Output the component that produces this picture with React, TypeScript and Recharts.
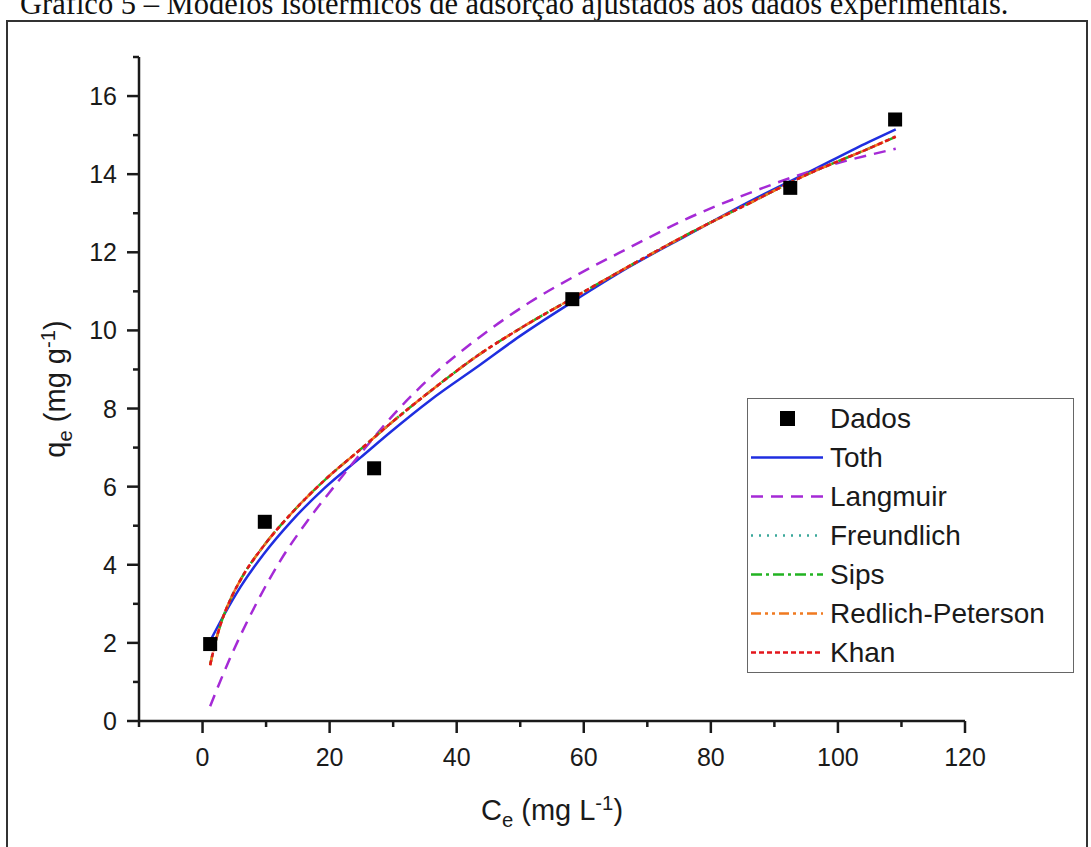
import React from "react";
import { ComposedChart, Line, Scatter, XAxis, YAxis } from "recharts";

// experimental points (Ce in mg/L, qe in mg/g)
const dadosCe = [1.2, 9.8, 27.0, 58.2, 92.5, 109.0];
const dadosQe = [1.97, 5.1, 6.47, 10.8, 13.65, 15.4];

// fitted curves
const tothCe = [1.2, 3.4, 6.0, 9.7, 13.9, 19.1, 24.9, 29.6, 35.9, 43.7, 50.0, 58.2, 67.2, 76.1, 86.6, 95.0, 104.9, 109.1];
const tothQe = [2.05, 2.72, 3.44, 4.29, 5.1, 5.95, 6.75, 7.4, 8.22, 9.12, 9.86, 10.73, 11.63, 12.42, 13.34, 14.02, 14.83, 15.15];

const langmuirCe = [1.2, 4.2, 8.6, 12.3, 16.5, 20.7, 25.4, 30.1, 35.9, 43.7, 51.5, 59.4, 67.2, 76.1, 86.6, 97.1, 109.1];
const langmuirQe = [0.38, 1.56, 3.05, 4.12, 5.12, 6.0, 6.95, 7.85, 8.8, 9.84, 10.72, 11.46, 12.12, 12.85, 13.55, 14.15, 14.65];

// Freundlich, Sips, Redlich-Peterson and Khan sit almost on top of each other
const fitCe = [1.2, 2.0, 3.0, 4.5, 6.0, 9.7, 13.9, 19.1, 24.9, 29.6, 35.9, 43.7, 50.0, 58.2, 67.2, 76.1, 86.6, 95.0, 104.9, 109.1];
const freundlichQe = [1.46, 2.0, 2.55, 3.15, 3.62, 4.5, 5.3, 6.15, 6.96, 7.62, 8.45, 9.4, 10.05, 10.82, 11.65, 12.44, 13.3, 13.98, 14.66, 14.97];
const sipsQe = [1.44, 2.0, 2.55, 3.15, 3.62, 4.5, 5.3, 6.15, 6.96, 7.62, 8.45, 9.4, 10.05, 10.82, 11.65, 12.44, 13.3, 13.98, 14.66, 14.96];
const redlichQe = [1.43, 2.0, 2.55, 3.15, 3.62, 4.5, 5.3, 6.15, 6.96, 7.62, 8.45, 9.4, 10.05, 10.82, 11.65, 12.44, 13.3, 13.98, 14.66, 14.96];
const khanQe = [1.43, 2.0, 2.55, 3.15, 3.62, 4.5, 5.3, 6.15, 6.96, 7.62, 8.45, 9.4, 10.05, 10.82, 11.65, 12.44, 13.3, 13.98, 14.66, 14.96];

const xTicks = [-10, 0, 10, 20, 30, 40, 50, 60, 70, 80, 90, 100, 110, 120];
const yTicks = [0, 1, 2, 3, 4, 5, 6, 7, 8, 9, 10, 11, 12, 13, 14, 15, 16, 17];

const toRows = (xs: number[], ys: number[]) => xs.map((x, i) => ({ x, y: ys[i] }));

const SERIES = [
  { name: "Toth", data: toRows(tothCe, tothQe), color: "#1f2ee0", dash: undefined },
  { name: "Langmuir", data: toRows(langmuirCe, langmuirQe), color: "#a52ad6", dash: "12 8" },
  { name: "Freundlich", data: toRows(fitCe, freundlichQe), color: "#3aa89a", dash: "2 6" },
  { name: "Sips", data: toRows(fitCe, sipsQe), color: "#22b322", dash: "11 4 3 4" },
  { name: "Redlich-Peterson", data: toRows(fitCe, redlichQe), color: "#f07a20", dash: "10 4 3 4 3 4" },
  { name: "Khan", data: toRows(fitCe, khanQe), color: "#e3161c", dash: "5 3" },
];

const INK = "#1a1a1a";
const SANS = "'Liberation Sans', Arial, sans-serif";

function XTick(props: any) {
  const { x, y, payload } = props;
  const v = payload.value as number;
  const major = v % 20 === 0;
  return (
    <g>
      <line x1={x} x2={x} y1={y} y2={y + (major ? 12 : 6)} stroke={INK} strokeWidth={2.5} />
      {major && (
        <text x={x} y={y + 45} textAnchor="middle" fontSize={25} fontFamily={SANS} fill={INK}>
          {v}
        </text>
      )}
    </g>
  );
}

function YTick(props: any) {
  const { x, y, payload } = props;
  const v = payload.value as number;
  const major = v % 2 === 0;
  return (
    <g>
      <line x1={x} x2={x - (major ? 12 : 6)} y1={y} y2={y} stroke={INK} strokeWidth={2.5} />
      {major && (
        <text x={x - 22} y={y + 9} textAnchor="end" fontSize={25} fontFamily={SANS} fill={INK}>
          {v}
        </text>
      )}
    </g>
  );
}

const Square = (p: any) => <rect x={p.cx - 7} y={p.cy - 7} width={14} height={14} fill="#000" />;

function LegendBox() {
  const rowH = 39;
  return (
    <div
      style={{
        position: "absolute",
        left: 747,
        top: 398,
        width: 325,
        height: 273,
        border: "1.5px solid #666",
        background: "#fff",
        fontFamily: SANS,
        fontSize: 28,
        color: INK,
      }}
    >
      <div style={{ height: rowH, display: "flex", alignItems: "center" }}>
        <svg width={82} height={rowH} style={{ flex: "none" }}>
          <rect x={32} y={rowH / 2 - 7.5} width={15} height={15} fill="#000" />
        </svg>
        <span>Dados</span>
      </div>
      {SERIES.map((s) => (
        <div key={s.name} style={{ height: rowH, display: "flex", alignItems: "center" }}>
          <svg width={82} height={rowH} style={{ flex: "none" }}>
            <line x1={3} x2={75} y1={rowH / 2} y2={rowH / 2} stroke={s.color} strokeWidth={2.5} strokeDasharray={s.dash} />
          </svg>
          <span style={{ whiteSpace: "nowrap" }}>{s.name}</span>
        </div>
      ))}
    </div>
  );
}

export default function App() {
  const dados = toRows(dadosCe, dadosQe);
  return (
    <div style={{ position: "absolute", left: 0, top: 0, width: 1091, height: 847, overflow: "hidden", background: "#fff" }}>
      <div
        style={{
          position: "absolute",
          left: 20,
          top: -11,
          whiteSpace: "nowrap",
          fontFamily: "'Liberation Serif', 'Times New Roman', serif",
          fontSize: 30.5,
          lineHeight: "30px",
          color: "#111",
        }}
      >
        Gráfico 5 – Modelos isotérmicos de adsorção ajustados aos dados experimentais.
      </div>
      <div
        style={{
          position: "absolute",
          left: 6,
          top: 20,
          width: 1078,
          height: 860,
          border: "2px solid #333",
        }}
      />
      <div style={{ position: "absolute", left: 0, top: 0 }}>
        <ComposedChart width={1091} height={847} margin={{ top: 57, right: 126, bottom: 66, left: 79 }}>
          <XAxis
            type="number"
            dataKey="x"
            domain={[-10, 120]}
            ticks={xTicks}
            interval={0}
            allowDataOverflow
            height={60}
            tickLine={false}
            tickSize={0}
            tickMargin={0}
            axisLine={{ stroke: INK, strokeWidth: 2.5 }}
            tick={<XTick />}
          />
          <YAxis
            type="number"
            domain={[0, 17]}
            ticks={yTicks}
            interval={0}
            allowDataOverflow
            width={60}
            tickLine={false}
            tickSize={0}
            tickMargin={0}
            axisLine={{ stroke: INK, strokeWidth: 2.5 }}
            tick={<YTick />}
          />
          <Scatter name="Dados" data={dados} dataKey="y" shape={Square} isAnimationActive={false} />
          {SERIES.map((s) => (
            <Line
              key={s.name}
              name={s.name}
              data={s.data}
              dataKey="y"
              type="monotone"
              stroke={s.color}
              strokeWidth={2.5}
              strokeDasharray={s.dash}
              dot={false}
              activeDot={false}
              isAnimationActive={false}
            />
          ))}
        </ComposedChart>
      </div>
      <div
        style={{
          position: "absolute",
          left: 57,
          top: 389,
          transform: "translate(-50%, -50%) rotate(-90deg)",
          whiteSpace: "nowrap",
          fontFamily: SANS,
          fontSize: 29,
          color: INK,
        }}
      >
        q<sub style={{ fontSize: "0.7em" }}>e</sub> (mg g<sup style={{ fontSize: "0.7em" }}>-1</sup>)
      </div>
      <div
        style={{
          position: "absolute",
          left: 552,
          top: 812,
          transform: "translate(-50%, -50%)",
          whiteSpace: "nowrap",
          fontFamily: SANS,
          fontSize: 29,
          color: INK,
        }}
      >
        C<sub style={{ fontSize: "0.7em" }}>e</sub> (mg L<sup style={{ fontSize: "0.7em" }}>-1</sup>)
      </div>
      <LegendBox />
    </div>
  );
}
